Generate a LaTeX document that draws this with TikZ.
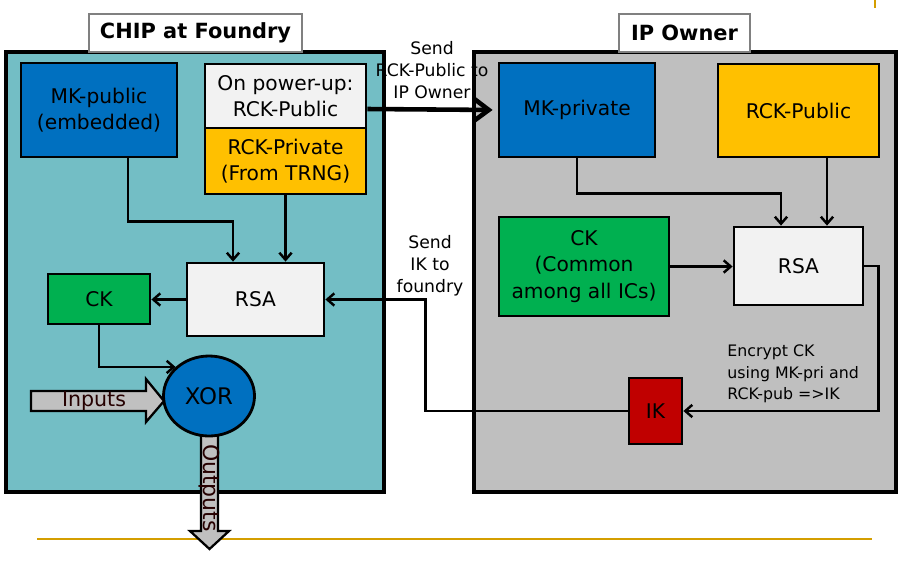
\documentclass[tikz,border=0pt]{standalone}
\usepackage{fontspec}
\setmainfont{DejaVu Sans}
\usetikzlibrary{arrows.meta,shapes.geometric}
\definecolor{cteal}{HTML}{73BEC5}
\definecolor{cgray}{HTML}{BFBFBF}
\definecolor{cblue}{HTML}{0070C0}
\definecolor{corange}{HTML}{FFC000}
\definecolor{cgreen}{HTML}{00B050}
\definecolor{clight}{HTML}{F2F2F2}
\definecolor{cred}{HTML}{C00000}
\definecolor{cgold}{HTML}{D49E00}
\definecolor{carrowfill}{HTML}{C0C0C0}
\begin{document}
\begin{tikzpicture}[x=0.02cm,y=-0.02cm,
  bx/.style 2 args={draw=black, line width=1.6pt, inner sep=0pt,
    minimum width=#1*0.02cm, minimum height=#2*0.02cm,
    font=\fontsize{11.5}{15}\selectfont, align=center},
  bigbox/.style 2 args={draw=black, line width=1.9pt, inner sep=0pt,
    minimum width=#1*0.02cm, minimum height=#2*0.02cm},
  titlebox/.style 2 args={draw=black!50, line width=1pt, fill=white, inner sep=0pt,
    minimum width=#1*0.02cm, minimum height=#2*0.02cm,
    font=\fontsize{11.9}{14}\selectfont\bfseries},
  lbl/.style={font=\fontsize{9.8}{12.5}\selectfont, inner sep=0pt},
  arr/.style={line width=1.4pt, -{Straight Barb[length=4pt,width=7pt]}},
  bigarr/.style={line width=2.6pt, -{Straight Barb[length=8pt,width=12pt]}},
  fatarrow/.style={draw=black, line width=1.3pt, fill=carrowfill, line join=miter}
]
\useasboundingbox (0,0) rectangle (909,562);

% decorative gold lines
\draw[cgold, line width=1.6pt] (37,539) -- (872,539);
\draw[cgold, line width=1.3pt] (875,0) -- (875,8);

% big containers
\node[bigbox={378}{440}, fill=cteal] (left) at (195,272) {};
\node[bigbox={422}{440}, fill=cgray] (right) at (685,272) {};
\node[titlebox={213}{38}] (ltitle) at (195.5,33) {CHIP at Foundry};
\node[titlebox={131}{38}] (rtitle) at (684.5,33) {IP Owner};

% left side nodes
\node[bx={156}{94}, fill=cblue] (mkpub) at (99,110) {MK-public\\(embedded)};
\node[bx={161}{64}, fill=clight] (power) at (285.5,96) {On power-up:\\RCK-Public};
\node[bx={161}{66}, fill=corange] (rckpriv) at (285.5,161) {RCK-Private\\(From TRNG)};
\node[bx={137}{73}, fill=clight] (lrsa) at (255.5,299.5) {RSA};
\node[bx={102}{50}, fill=cgreen] (lck) at (99,299) {CK};

% outputs arrow (behind XOR)
\draw[fatarrow] (201,420) -- (201,531) -- (190,531) -- (209.5,549) -- (229,531) -- (218,531) -- (218,420) -- cycle;
\node[bx={91}{80}, ellipse, fill=cblue, font=\fontsize{13}{15}\selectfont] (xor) at (209,396) {XOR};
\node[font=\fontsize{12.5}{14}\selectfont, rotate=-90, inner sep=0pt, text=black!85!red] (outtxt) at (209.5,488) {Outputs};

% inputs arrow
\draw[fatarrow] (31,391) -- (146,391) -- (146,379) -- (164,401) -- (146,422) -- (146,411) -- (31,411) -- cycle;
\node[font=\fontsize{11.7}{13}\selectfont, inner sep=0pt, text=black!85!red] (intxt) at (94,401) {Inputs};

% right side nodes
\node[bx={156}{94}, fill=cblue] (mkpriv) at (577,110) {MK-private};
\node[bx={161}{93}, fill=corange] (rckpub) at (798.5,110.5) {RCK-Public};
\node[bx={170}{99}, fill=cgreen] (rck) at (584,266.5) {CK\\(Common\\among all ICs)};
\node[bx={129}{78}, fill=clight] (rrsa) at (798.5,266) {RSA};
\node[bx={53}{66}, fill=cred] (ik) at (655.5,411) {IK};

% left connectors
\draw[arr] ([xshift=29*0.02cm]mkpub.south) -- ++(0,63) -| ([xshift=-22.5*0.02cm]lrsa.north);
\draw[arr] (rckpriv.south) -- (rckpriv.south |- lrsa.north);
\draw[arr] (lrsa.west) -- (lrsa.west -| lck.east);
\draw[arr] (lck.south) |- (xor.139);

% cross connectors
\draw[bigarr, shorten >=5*0.02cm] ([yshift=-13*0.02cm]power.east) -- (mkpriv.west);
\draw[arr] (ik.west) -- ++(-202,0) |- (lrsa.east);

% right connectors
\draw[arr] (mkpriv.south) -- ++(0,35) -| ([xshift=-17.5*0.02cm]rrsa.north);
\draw[arr] ([xshift=28.5*0.02cm]rckpub.south) -- ([xshift=28.5*0.02cm]rrsa.north);
\draw[arr] (rck.east) -- (rck.east -| rrsa.west);
\draw[arr] (rrsa.east) -- ++(14,0) |- (ik.east);

% labels
\node[lbl, align=center] (l1) at (432,70) {Send\\RCK-Public to\\IP Owner};
\node[lbl, align=center] (l2) at (430,266) {Send\\IK to\\foundry};
\node[lbl, align=left, anchor=west, font=\fontsize{9}{12.3}\selectfont] (l3) at (727,374) {Encrypt CK\\using MK-pri and\\RCK-pub =>IK};
\end{tikzpicture}
\end{document}
